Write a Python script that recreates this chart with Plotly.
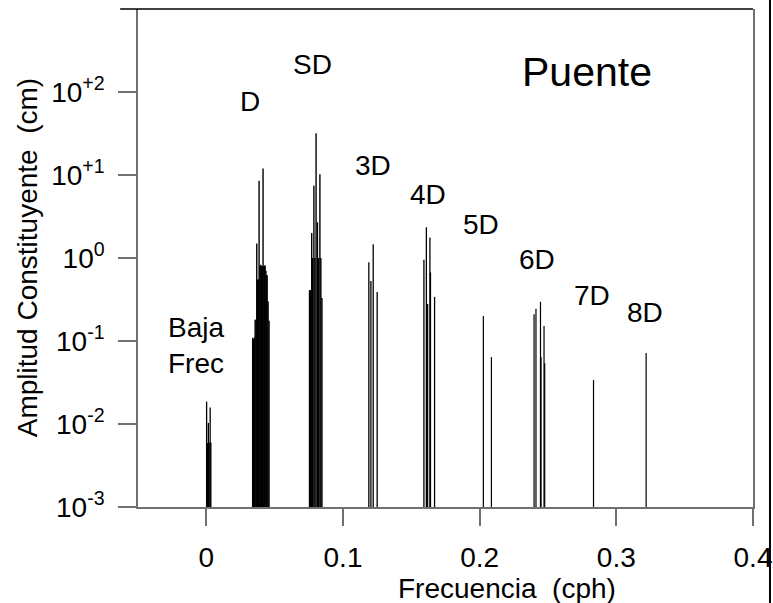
import plotly.graph_objects as go

# Tidal constituent spectrum: frequency (cph) and amplitude (cm), grouped by band
low_freq = [0.0002, 0.0008, 0.0015, 0.0021, 0.0028, 0.0033]
low_amp = [0.0186, 0.0059, 0.0103, 0.0060, 0.0158, 0.0060]

d_freq = [0.0339, 0.0345, 0.0351, 0.0357, 0.0363, 0.0369, 0.0375, 0.0380,
          0.0386, 0.0392, 0.0398, 0.0404, 0.0410, 0.0415, 0.0421, 0.0425,
          0.0430, 0.0436, 0.0440, 0.0445, 0.0452, 0.0459]
d_amp = [0.109, 0.105, 0.11, 0.18, 0.18, 1.5, 0.55, 0.55,
         8.5, 0.8, 0.83, 0.8, 0.8, 12.0, 0.8, 0.8,
         0.82, 0.7, 0.62, 0.62, 0.3, 0.175]

sd_freq = [0.0755, 0.0762, 0.0771, 0.0778, 0.0787, 0.0794, 0.0803,
           0.0813, 0.0821, 0.0831, 0.0838, 0.0846]
sd_amp = [0.41, 0.41, 2.0, 1.0, 7.4, 1.0, 31.8,
          2.7, 1.0, 10.2, 1.0, 0.33]

d3_freq = [0.1189, 0.1204, 0.1221, 0.1250]
d3_amp = [0.89, 0.53, 1.46, 0.39]

d4_freq = [0.1592, 0.1610, 0.1619, 0.1636, 0.1640, 0.1670]
d4_amp = [0.95, 2.34, 0.28, 1.77, 0.67, 0.34]

d5_freq = [0.2027, 0.2086]
d5_amp = [0.20, 0.064]

d6_freq = [0.2398, 0.2412, 0.2445, 0.2449, 0.2471, 0.2476]
d6_amp = [0.21, 0.245, 0.297, 0.064, 0.152, 0.054]

d7_freq = [0.2833]
d7_amp = [0.034]

d8_freq = [0.3218]
d8_amp = [0.0716]

# Band labels: text, frequency position (cph), log10 amplitude position
band_text = ["Baja<br>Frec", "D", "SD", "3D", "4D", "5D", "6D", "7D", "8D"]
band_x = [-0.0073, 0.0323, 0.0777, 0.1216, 0.1619, 0.2007, 0.2418, 0.2821, 0.3209]
band_logy = [-1.06, 1.88, 2.33, 1.12, 0.77, 0.40, -0.02, -0.45, -0.66]

AMP_FLOOR = 1e-3
FONT = "Liberation Sans, Arial, sans-serif"
AXIS_GREY = "#707070"


def stems(freqs, amps):
    xs, ys = [], []
    for f, a in zip(freqs, amps):
        xs += [f, f, None]
        ys += [AMP_FLOOR, a, None]
    return xs, ys


groups = [
    (low_freq, low_amp, 1.3),
    (d_freq, d_amp, 1.4),
    (sd_freq, sd_amp, 1.4),
    (d3_freq, d3_amp, 1.3),
    (d4_freq, d4_amp, 1.3),
    (d5_freq, d5_amp, 1.2),
    (d6_freq, d6_amp, 1.2),
    (d7_freq, d7_amp, 1.2),
    (d8_freq, d8_amp, 1.2),
]

fig = go.Figure()
for freqs, amps, w in groups:
    xs, ys = stems(freqs, amps)
    fig.add_trace(go.Scatter(x=xs, y=ys, mode="lines",
                             line=dict(color="black", width=w),
                             hoverinfo="skip", showlegend=False))

y_tickvals = [1e-3, 1e-2, 1e-1, 1e0, 1e1, 1e2]
y_ticktext = ["10<sup>-3</sup>", "10<sup>-2</sup>", "10<sup>-1</sup>",
              "10<sup>0</sup>", "10<sup>+1</sup>", "10<sup>+2</sup>"]
x_tickvals = [0, 0.1, 0.2, 0.3, 0.4]
x_ticktext = ["0", "0.1", "0.2", "0.3", "0.4"]

fig.update_layout(
    width=773, height=603,
    margin=dict(l=138, r=20, t=9, b=96),
    paper_bgcolor="white", plot_bgcolor="white",
    font=dict(family=FONT, size=28, color="black"),
    xaxis=dict(range=[-0.05, 0.4], tickvals=x_tickvals, ticktext=x_ticktext,
               automargin=False,
               showgrid=False, zeroline=False, showline=True,
               linecolor=AXIS_GREY, linewidth=1.5,
               ticks="outside", ticklen=17, tickcolor=AXIS_GREY, tickwidth=1.5,
               ticklabelstandoff=8, tickfont=dict(size=28)),
    yaxis=dict(type="log", range=[-3, 3], tickvals=y_tickvals, ticktext=y_ticktext,
               automargin=False,
               showgrid=False, zeroline=False, showline=True, mirror=True,
               linecolor=AXIS_GREY, linewidth=1.5,
               ticks="outside", ticklen=18, tickcolor=AXIS_GREY, tickwidth=1.5,
               ticklabelstandoff=8, tickfont=dict(size=28)),
)

# Band labels
for t, x, ly in zip(band_text, band_x, band_logy):
    fig.add_annotation(x=x, y=ly, xref="x", yref="y", text=t, showarrow=False,
                       font=dict(size=28), xanchor="center", yanchor="middle")

# Station name
fig.add_annotation(x=0.73, y=0.873, xref="paper", yref="paper", text="Puente",
                   showarrow=False, font=dict(size=41),
                   xanchor="center", yanchor="middle")

# Axis titles
fig.add_annotation(x=0.6, y=-0.163, xref="paper", yref="paper",
                   text="Frecuencia  (cph)", showarrow=False,
                   font=dict(size=28), xanchor="center", yanchor="middle")
fig.add_annotation(x=-0.18, y=0.5, xref="paper", yref="paper",
                   text="Amplitud Constituyente  (cm)", textangle=-90,
                   showarrow=False, font=dict(size=28),
                   xanchor="center", yanchor="middle")

# Top frame line and outer right border
fig.add_shape(type="line", xref="paper", yref="paper",
              x0=-0.029, x1=1.0, y0=1.0, y1=1.0,
              line=dict(color="black", width=1.5))
fig.add_shape(type="line", xref="paper", yref="paper",
              x0=1.0276, x1=1.0276, y0=-0.2, y1=1.03,
              line=dict(color="black", width=2))

fig.write_html("out.html")
